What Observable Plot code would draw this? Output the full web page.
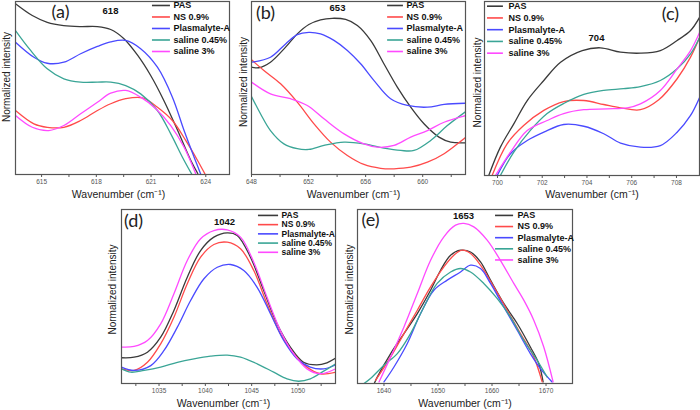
<!DOCTYPE html>
<html>
<head>
<meta charset="utf-8">
<script src="https://cdn.jsdelivr.net/npm/d3@7"></script>
<script src="https://cdn.jsdelivr.net/npm/@observablehq/plot@0.6"></script>
<style>
  body { margin: 0; background: #fff; }
  #wrap { position: relative; width: 700px; height: 410px; background: #fff; overflow: hidden; }
  .pnl { position: absolute; }
  .pnl svg { overflow: visible; }
</style>
</head>
<body>
<div id="wrap"></div>
<script>
// ---------- data ----------
const seriesNames = ["PAS", "NS 0.9%", "Plasmalyte-A", "saline 0.45%", "saline 3%"];
const seriesColors = ["#3a3a3a", "#ff4a4a", "#4a4aff", "#3aa596", "#ff4aff"];
const xLabel = "Wavenumber (cm⁻¹)";
const yLabel = "Normalized intensity";

// panel (a)
const aTicks = [615, 618, 621, 624];
const aMinor = [616.5, 619.5, 622.5];
const aPAS = [[613.57,0.987],[614.49,0.919],[615.31,0.880],[616.21,0.861],[617.14,0.855],[618.06,0.855],[618.79,0.838],[619.5,0.786],[620.27,0.688],[620.98,0.572],[621.70,0.428],[622.46,0.254],[623.18,0.081],[623.56,0.006]];
const aNS = [[613.57,0.370],[614.58,0.293],[615.31,0.273],[616.22,0.273],[617.14,0.312],[618.06,0.370],[618.79,0.409],[619.61,0.438],[620.53,0.443],[621.35,0.389],[622.17,0.312],[622.9,0.197],[623.55,0.081],[623.95,0.004]];
const aPLA = [[613.57,0.765],[614.58,0.678],[615.31,0.643],[616.22,0.649],[617.14,0.698],[618.06,0.740],[618.79,0.767],[619.61,0.775],[620.43,0.727],[621.35,0.620],[622.17,0.447],[622.81,0.254],[623.36,0.100],[623.73,0.0]];
const aS045 = [[613.57,0.832],[614.4,0.717],[615.31,0.611],[616.22,0.553],[617.14,0.534],[618.06,0.534],[618.79,0.534],[619.61,0.514],[620.43,0.466],[621.35,0.370],[622.08,0.235],[622.72,0.100],[623.22,0.004]];
const aS3 = [[613.57,0.341],[614.49,0.273],[615.4,0.254],[616.22,0.283],[617.14,0.351],[618.06,0.418],[618.79,0.470],[619.61,0.486],[620.43,0.447],[621.26,0.380],[622.08,0.283],[622.81,0.158],[623.45,0.004]];

// panel (b)
const bTicks = [648, 652, 656, 660];
const bMinor = [650, 654, 658, 662];
const bPAS = [[648,0.620],[648.51,0.617],[649.33,0.649],[650.39,0.736],[651.21,0.813],[652.02,0.867],[652.84,0.894],[653.66,0.903],[654.6,0.896],[655.42,0.861],[656.35,0.775],[657.28,0.640],[658.22,0.505],[659.16,0.389],[660.09,0.293],[661.14,0.216],[661.96,0.187],[663.02,0.183]];
const bNS = [[648,0.663],[648.87,0.601],[650.04,0.524],[651.21,0.418],[652.38,0.293],[653.54,0.187],[654.72,0.110],[655.88,0.058],[657.05,0.036],[657.99,0.033],[659.16,0.042],[660.33,0.071],[661.5,0.120],[663.02,0.216]];
const bPLA = [[648,0.649],[649.33,0.678],[650.39,0.755],[651.21,0.809],[652.02,0.822],[652.84,0.813],[653.78,0.775],[654.72,0.717],[655.65,0.640],[656.59,0.543],[657.75,0.438],[658.93,0.399],[660.33,0.389],[661.5,0.405],[663.02,0.412]];
const bS045 = [[648,0.451],[648.63,0.351],[649.33,0.254],[650.27,0.177],[651.21,0.149],[652.02,0.145],[653.08,0.168],[654.49,0.187],[655.88,0.177],[657.28,0.152],[658.46,0.139],[659.39,0.139],[660.56,0.197],[661.73,0.283],[663.02,0.364]];
const bS3 = [[648,0.534],[649.33,0.466],[650.74,0.438],[651.91,0.399],[653.08,0.322],[654.49,0.235],[655.88,0.177],[656.82,0.158],[657.99,0.168],[659.16,0.216],[660.33,0.254],[661.5,0.302],[663.02,0.341]];

// panel (c)
const cTicks = [700, 702, 704, 706, 708];
const cMinor = [701, 703, 705, 707];
const cPAS = [[699.61,0],[700.13,0.163],[700.73,0.297],[701.33,0.431],[702.07,0.546],[702.82,0.651],[703.79,0.718],[704.6,0.734],[705.5,0.709],[706.39,0.703],[707.28,0.718],[708.03,0.776],[708.63,0.833],[709.04,0.910]];
const cNS = [[699.76,0],[700.43,0.182],[701.17,0.287],[702.07,0.374],[702.96,0.425],[703.86,0.431],[704.75,0.408],[705.5,0.389],[706.39,0.378],[707.21,0.435],[708.03,0.556],[708.63,0.680],[709.04,0.795]];
const cPLA = [[699.99,0],[700.58,0.125],[701.33,0.201],[702.07,0.249],[702.96,0.293],[703.86,0.283],[704.75,0.240],[705.5,0.186],[706.39,0.163],[707.28,0.172],[708.03,0.249],[708.63,0.345],[709.04,0.450]];
const cS045 = [[700.13,0],[700.73,0.134],[701.47,0.259],[702.22,0.356],[702.96,0.414],[703.86,0.466],[704.75,0.489],[705.64,0.499],[706.39,0.511],[707.28,0.546],[708.03,0.613],[708.63,0.699],[709.04,0.795]];
const cS3 = [[699.91,0],[700.58,0.134],[701.33,0.259],[702.22,0.316],[702.96,0.356],[703.86,0.378],[704.9,0.383],[705.8,0.389],[706.39,0.412],[707.28,0.489],[708.03,0.613],[708.63,0.718],[709.04,0.824]];

// panel (d)
const dTicks = [1035, 1040, 1045, 1050];
const dMinor = [1032.5, 1037.5, 1042.5, 1047.5, 1052.5];
const dPAS = [[1030.95,0.148],[1032.31,0.151],[1033.75,0.180],[1035.18,0.266],[1036.61,0.420],[1038.05,0.611],[1039.49,0.764],[1040.92,0.841],[1042.36,0.866],[1043.44,0.851],[1044.87,0.726],[1046.3,0.534],[1047.74,0.343],[1049.18,0.209],[1050.6,0.122],[1052.04,0.107],[1053.12,0.119],[1054.05,0.145]];
const dNS = [[1030.95,0.084],[1032.31,0.075],[1033.75,0.122],[1035.18,0.228],[1036.61,0.381],[1038.05,0.573],[1039.49,0.726],[1040.92,0.799],[1042.36,0.812],[1043.8,0.774],[1045.23,0.649],[1046.66,0.458],[1048.1,0.286],[1049.53,0.171],[1050.97,0.094],[1052.41,0.056],[1054.05,0.065]];
const dPLA = [[1030.95,0.094],[1032.31,0.075],[1034.11,0.103],[1035.54,0.190],[1036.98,0.324],[1038.41,0.477],[1039.85,0.602],[1041.29,0.668],[1042.72,0.684],[1044.15,0.649],[1045.59,0.553],[1047.03,0.401],[1048.46,0.247],[1049.89,0.142],[1051.33,0.094],[1052.77,0.084],[1054.05,0.107]];
const dS045 = [[1030.95,0.084],[1031.95,0.065],[1033.39,0.075],[1035.18,0.094],[1036.98,0.122],[1038.77,0.142],[1040.56,0.157],[1042.36,0.163],[1043.8,0.151],[1045.59,0.113],[1047.38,0.065],[1048.82,0.027],[1050.07,0.013],[1051.33,0.027],[1052.77,0.071],[1054.05,0.113]];
const dS3 = [[1030.95,0.209],[1032.31,0.213],[1033.75,0.247],[1035.18,0.343],[1036.61,0.516],[1038.05,0.707],[1039.49,0.832],[1040.92,0.879],[1042.36,0.883],[1043.8,0.841],[1045.23,0.697],[1046.66,0.496],[1048.1,0.305],[1049.53,0.171],[1050.97,0.084],[1052.41,0.056],[1054.05,0.084]];

// panel (e)
const eTicks = [1640, 1650, 1660, 1670];
const eMinor = [1645, 1655, 1665];
const ePAS = [[1638.2,0.0],[1638.78,0.038],[1641.24,0.172],[1643.7,0.287],[1646.17,0.402],[1648.63,0.536],[1650.48,0.651],[1652.33,0.737],[1654.17,0.766],[1656.02,0.756],[1657.87,0.699],[1659.72,0.594],[1662.18,0.460],[1664.66,0.345],[1667.1,0.210],[1668.65,0.115],[1669.46,0.009]];
const eNS = [[1638.47,0.019],[1641.24,0.153],[1643.7,0.287],[1646.17,0.421],[1648.63,0.555],[1651.09,0.670],[1652.94,0.737],[1654.48,0.766],[1656.02,0.747],[1657.87,0.680],[1660.33,0.555],[1662.8,0.421],[1665.27,0.287],[1667.73,0.153],[1669.28,0.009]];
const ePLA = [[1640,0.009],[1641.85,0.095],[1644.32,0.230],[1646.78,0.402],[1649.24,0.536],[1651.71,0.594],[1654.17,0.641],[1656.02,0.680],[1657.87,0.661],[1659.72,0.575],[1662.18,0.440],[1664.66,0.306],[1667.1,0.172],[1668.96,0.086],[1671.12,0.009]];
const eS045 = [[1636.3,0.0],[1637.5,0.029],[1640,0.105],[1642.47,0.172],[1644.92,0.287],[1647.39,0.440],[1649.85,0.575],[1652.33,0.641],[1654.17,0.661],[1656.02,0.641],[1658.48,0.575],[1660.94,0.489],[1663.4,0.383],[1665.86,0.249],[1668.33,0.134],[1670.18,0.038]];
const eS3 = [[1639.08,0.009],[1641.24,0.153],[1643.7,0.325],[1646.17,0.517],[1648.63,0.708],[1651.09,0.843],[1653.25,0.910],[1654.79,0.920],[1656.63,0.900],[1659.1,0.824],[1661.55,0.708],[1664.03,0.575],[1665.88,0.479],[1667.73,0.364],[1669.58,0.210],[1671.31,0.009]];

// ---------- drawing ----------
const FONT = "Liberation Sans, Arial, sans-serif";

function panel(cfg) {
  const [lo, hi] = cfg.domain;
  const fx = f => lo + f * (hi - lo);
  const fy = f => 1 - f;
  const L = cfg.legend;
  const rows = seriesNames.map((name, i) => ({name, color: seriesColors[i], i}));
  const ly = r => fy(L.top + r.i * L.step);
  const label = (txt, anchor, pos, opts) => Plot.text([txt], {
    text: d => d, frameAnchor: anchor, dx: pos[0], dy: pos[1],
    textAnchor: "middle", lineAnchor: "middle", ...opts
  });
  const marks = [
    ...cfg.series.map((pts, i) => Plot.line(pts, {
      x: d => d[0], y: d => d[1], stroke: seriesColors[i], strokeWidth: 1.3,
      curve: "catmull-rom", clip: true
    })),
    Plot.frame({stroke: "#555", strokeWidth: 1.2}),
    // minor ticks below the bottom edge
    Plot.ruleX(cfg.minor, {x: d => d, y1: 0, y2: 0, insetBottom: -3, stroke: "#555", strokeWidth: 1}),
    Plot.ruleY(rows, {y: ly, x1: fx(L.x1), x2: fx(L.x2), stroke: r => r.color, strokeWidth: 1.6}),
    Plot.text(rows, {x: fx(L.tx), y: ly, text: r => r.name, textAnchor: "start", lineAnchor: "middle",
      fontWeight: "bold", fontSize: L.size, fontFamily: FONT, fill: "#111"}),
    label(cfg.letter, "top-left", cfg.letterPos, {fontSize: 18, fontFamily: "Lato, Open Sans, sans-serif", fill: "#222"}),
    label(cfg.peak, "top-left", cfg.peakPos, {fontSize: 9.5, fontWeight: "bold", fontFamily: FONT, fill: "#111"}),
    label(xLabel, "bottom", cfg.xlab, {fontSize: 10.5, fontFamily: FONT, fill: "#222"}),
    label(yLabel, "left", cfg.ylab, {rotate: -90, fontSize: 10, fontFamily: FONT, fill: "#222"})
  ];
  const svg = Plot.plot({
    width: cfg.w, height: cfg.h,
    marginTop: cfg.m[0], marginRight: cfg.m[1], marginBottom: cfg.m[2], marginLeft: cfg.m[3],
    style: {background: "transparent", overflow: "visible", fontSize: "6.5px", fontFamily: FONT, color: "#555"},
    color: {type: "identity"},
    x: {domain: cfg.domain, ticks: cfg.ticks, tickFormat: d => String(d),
        tickSize: 3, tickPadding: 2, label: null, line: false},
    y: {domain: [0, 1], axis: null},
    marks
  });
  const div = document.createElement("div");
  div.className = "pnl";
  div.style.left = cfg.left + "px";
  div.style.top = cfg.top + "px";
  div.appendChild(svg);
  document.getElementById("wrap").appendChild(div);
}

panel({left: 0, top: 0, w: 240, h: 200, m: [1, 11, 26, 15], domain: [613.57, 625.3],
  ticks: aTicks, minor: aMinor, series: [aPAS, aNS, aPLA, aS045, aS3],
  legend: {x1: 0.640, x2: 0.724, tx: 0.738, top: 0.023, step: 0.0665, size: 9},
  letter: "(a)", letterPos: [45, 11], peak: "618", peakPos: [95, 9], xlab: [-4, 20], ylab: [-9, -11]});

panel({left: 232, top: 0, w: 240, h: 200, m: [1, 7, 26, 19], domain: [648, 663.0],
  ticks: bTicks, minor: bMinor, series: [bPAS, bNS, bPLA, bS045, bS3],
  legend: {x1: 0.636, x2: 0.710, tx: 0.724, top: 0.023, step: 0.0665, size: 9},
  letter: "(b)", letterPos: [14, 12], peak: "653", peakPos: [86, 6], xlab: [-5, 20], ylab: [-8, -6]});

panel({left: 465, top: 0, w: 235, h: 200, m: [1, 1, 25, 19], domain: [699.42, 709.03],
  ticks: cTicks, minor: cMinor, series: [cPAS, cNS, cPLA, cS045, cS3],
  legend: {x1: 0.014, x2: 0.088, tx: 0.112, top: 0.027, step: 0.0675, size: 9},
  letter: "(c)", letterPos: [186, 13], peak: "704", peakPos: [112, 36], xlab: [0, 19], ylab: [-7, -6]});

panel({left: 100, top: 200, w: 260, h: 210, m: [9, 25, 27, 21], domain: [1030.95, 1054.05],
  ticks: dTicks, minor: dMinor, series: [dPAS, dNS, dPLA, dS045, dS3],
  legend: {x1: 0.640, x2: 0.734, tx: 0.748, top: 0.034, step: 0.053, size: 8.5},
  letter: "(d)", letterPos: [12, 12], peak: "1042", peakPos: [103, 12], xlab: [-5, 20], ylab: [-9, -7]});

panel({left: 340, top: 200, w: 240, h: 210, m: [9, 8, 27, 17], domain: [1635.1, 1674.9],
  ticks: eTicks, minor: eMinor, series: [ePAS, eNS, ePLA, eS045, eS3],
  legend: {x1: 0.642, x2: 0.726, tx: 0.744, top: 0.034, step: 0.064, size: 9},
  letter: "(e)", letterPos: [13, 11], peak: "1653", peakPos: [106, 6], xlab: [0, 20], ylab: [-8, -7]});
</script>
</body>
</html>
